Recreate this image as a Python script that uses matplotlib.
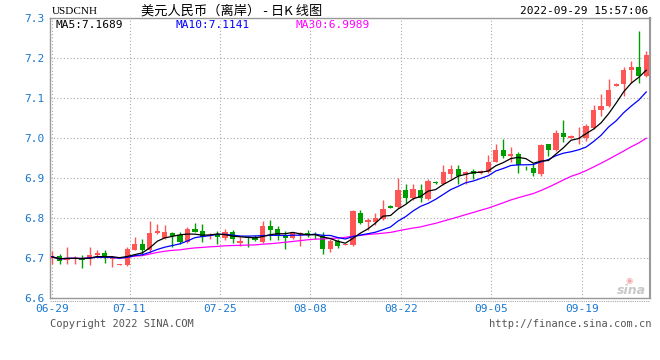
import matplotlib
matplotlib.use("Agg")
import matplotlib.pyplot as plt
from matplotlib.lines import Line2D
import pandas as pd

# USDCNH daily K line, 2022-06-29 .. 2022-09-29 (Mon-Sat sessions)
opens = [6.700, 6.704, 6.696, 6.698, 6.699, 6.700, 6.707, 6.712, 6.698, 6.683,
         6.683, 6.721, 6.736, 6.719, 6.763, 6.750, 6.763, 6.758, 6.741, 6.772,
         6.767, 6.756, 6.758, 6.750, 6.766, 6.737, 6.752, 6.752, 6.739, 6.779,
         6.772, 6.758, 6.750, 6.757, 6.763, 6.761, 6.754, 6.722, 6.742, 6.733,
         6.733, 6.813, 6.790, 6.790, 6.798, 6.831, 6.828, 6.869, 6.851, 6.871,
         6.848, 6.890, 6.886, 6.911, 6.923, 6.907, 6.917, 6.913, 6.915, 6.941,
         6.970, 6.955, 6.959, 6.925, 6.926, 6.910, 6.984, 6.970, 7.012, 7.001,
         7.002, 7.001, 7.026, 7.069, 7.080, 7.131, 7.134, 7.171, 7.178, 7.154]
highs = [6.717, 6.709, 6.727, 6.704, 6.707, 6.727, 6.719, 6.719, 6.704, 6.684,
         6.727, 6.752, 6.747, 6.793, 6.785, 6.782, 6.765, 6.764, 6.777, 6.787,
         6.785, 6.763, 6.768, 6.772, 6.770, 6.753, 6.756, 6.758, 6.792, 6.795,
         6.779, 6.767, 6.765, 6.765, 6.771, 6.765, 6.765, 6.748, 6.748, 6.735,
         6.821, 6.821, 6.800, 6.813, 6.846, 6.833, 6.900, 6.886, 6.885, 6.886,
         6.898, 6.893, 6.933, 6.933, 6.933, 6.917, 6.923, 6.920, 6.957, 6.985,
         6.997, 6.978, 6.964, 6.929, 6.934, 6.984, 6.985, 7.019, 7.045, 7.007,
         7.027, 7.034, 7.082, 7.111, 7.148, 7.138, 7.178, 7.193, 7.268, 7.218]
lows = [6.686, 6.684, 6.686, 6.684, 6.674, 6.682, 6.705, 6.688, 6.678, 6.682,
        6.679, 6.719, 6.710, 6.713, 6.760, 6.748, 6.727, 6.735, 6.737, 6.764,
        6.741, 6.748, 6.735, 6.744, 6.737, 6.730, 6.727, 6.743, 6.737, 6.745,
        6.745, 6.723, 6.748, 6.730, 6.753, 6.748, 6.709, 6.715, 6.725, 6.733,
        6.729, 6.784, 6.769, 6.782, 6.796, 6.824, 6.825, 6.838, 6.845, 6.840,
        6.846, 6.886, 6.883, 6.898, 6.886, 6.886, 6.897, 6.911, 6.913, 6.939,
        6.951, 6.940, 6.913, 6.919, 6.905, 6.905, 6.955, 6.968, 6.990, 6.999,
        6.984, 6.992, 7.022, 7.055, 7.078, 7.129, 7.106, 7.138, 7.138, 7.153]
closes = [6.703, 6.693, 6.701, 6.700, 6.696, 6.708, 6.713, 6.699, 6.700, 6.684,
          6.723, 6.736, 6.721, 6.763, 6.767, 6.765, 6.754, 6.741, 6.772, 6.766,
          6.752, 6.758, 6.752, 6.764, 6.748, 6.743, 6.751, 6.745, 6.781, 6.771,
          6.756, 6.750, 6.762, 6.763, 6.759, 6.757, 6.722, 6.742, 6.729, 6.735,
          6.817, 6.788, 6.795, 6.801, 6.822, 6.825, 6.869, 6.851, 6.873, 6.851,
          6.892, 6.888, 6.915, 6.923, 6.905, 6.915, 6.911, 6.917, 6.940, 6.970,
          6.955, 6.961, 6.932, 6.924, 6.912, 6.982, 6.969, 7.013, 7.003, 7.005,
          7.003, 7.030, 7.071, 7.081, 7.119, 7.136, 7.171, 7.178, 7.154, 7.208]

tick_labels = ["06-29", "07-11", "07-25", "08-08", "08-22", "09-05", "09-19"]
y_ticks = [6.6, 6.7, 6.8, 6.9, 7.0, 7.1, 7.2, 7.3]

dates = pd.bdate_range("2022-06-29", "2022-09-29", freq="C",
                       weekmask="Mon Tue Wed Thu Fri Sat")
df = pd.DataFrame({"open": opens, "high": highs, "low": lows, "close": closes})
df["ma5"] = df["close"].rolling(5, min_periods=1).mean()
df["ma10"] = df["close"].rolling(10, min_periods=1).mean()
df["ma30"] = df["close"].rolling(30, min_periods=1).mean()

RED = "#ff5555"
GREEN = "#009d00"
BLUE_TXT = "#1a78d0"
GRID = "#aaaaaa"
MONO = "DejaVu Sans Mono"

W, H = 660, 360
fig = plt.figure(figsize=(6.6, 3.6), dpi=100)
ax = fig.add_axes([50.5 / W, 1 - 298 / H, (650 - 50.5) / W, 280 / H])

x = list(range(len(df)))
up = df["close"] >= df["open"]
colors = [RED if u else GREEN for u in up]
bottom = df[["open", "close"]].min(axis=1)
height = (df["close"] - df["open"]).abs().clip(lower=0.0012)

ax.vlines(x, df["low"], df["high"], colors=colors, linewidth=1.0, zorder=3)
ax.bar(x, height, bottom=bottom, width=0.7, color=colors, linewidth=0, zorder=4)

ax.plot(x, df["ma30"], color="#ff00ff", linewidth=0.9, zorder=5)
ax.plot(x, df["ma10"], color="#0000ff", linewidth=0.9, zorder=6)
ax.plot(x, df["ma5"], color="black", linewidth=0.9, zorder=7)

# grid lines follow calendar spacing, like the original
span = (dates[-1] - dates[0]).days
tick_pos = [(pd.Timestamp("2022-" + t) - dates[0]).days / span * (len(df) - 1)
            for t in tick_labels]

ax.set_xlim(-0.2, len(df) - 1 + 0.5)
ax.set_ylim(6.6, 7.3)
ax.set_xticks(tick_pos)
ax.set_xticklabels(tick_labels, fontfamily=MONO, fontsize=8, color=BLUE_TXT)
ax.set_yticks(y_ticks)
ax.set_yticklabels(["%.1f" % v for v in y_ticks], fontfamily=MONO,
                   fontsize=8, color=BLUE_TXT)
ax.tick_params(length=0, pad=4)
ax.grid(True, color=GRID, linestyle=(0, (1, 2)), linewidth=0.8)
for s in ax.spines.values():
    s.set_color("#999999")
    s.set_linewidth(1)
ax.spines["right"].set_linewidth(1.5)

# header
fig.text(52 / W, 1 - 11 / H, "USDCNH", fontfamily="Liberation Serif",
         fontsize=8, va="center", ha="left")
fig.text(232 / W, 1 - 11 / H, "美元人民币（离岸） - 日K 线图",
         fontfamily=["Noto Sans CJK SC", "DejaVu Sans"], fontsize=9.5,
         va="center", ha="center")
fig.text(648 / W, 1 - 11 / H, "2022-09-29 15:57:06", fontfamily=MONO,
         fontsize=8, va="center", ha="right")

fig.text(55 / W, 1 - 25 / H, "MA5:%.4f" % 7.1689, fontfamily=MONO, fontsize=8,
         color="black", va="center")
fig.text(175 / W, 1 - 25 / H, "MA10:%.4f" % 7.1141, fontfamily=MONO, fontsize=8,
         color="#0000ff", va="center")
fig.text(295 / W, 1 - 25 / H, "MA30:%.4f" % 6.9989, fontfamily=MONO, fontsize=8,
         color="#ff00ff", va="center")

# sina mark
fig.text(629 / W, 1 - 281 / H, "◉", fontfamily="DejaVu Sans", fontsize=6,
         color="#f2a8a8", ha="center", va="center")
fig.text(646 / W, 1 - 291 / H, "sina", fontfamily="DejaVu Sans", fontsize=9,
         fontstyle="italic", fontweight="bold", color="#c8c8c8",
         ha="right", va="center")

# dotted rule under the plot
fig.add_artist(Line2D([50.5 / W, 650 / W], [1 - 301 / H, 1 - 301 / H],
                      color=GRID, linestyle=(0, (1, 1)), linewidth=0.8))

# footer
fig.text(50 / W, 1 - 324 / H, "Copyright 2022 SINA.COM", fontfamily=MONO,
         fontsize=7.5, color="#555555", va="center", ha="left")
fig.text(652 / W, 1 - 324 / H, "http://finance.sina.com.cn", fontfamily=MONO,
         fontsize=7.5, color="#555555", va="center", ha="right")

fig.savefig("out.png", dpi=100)
